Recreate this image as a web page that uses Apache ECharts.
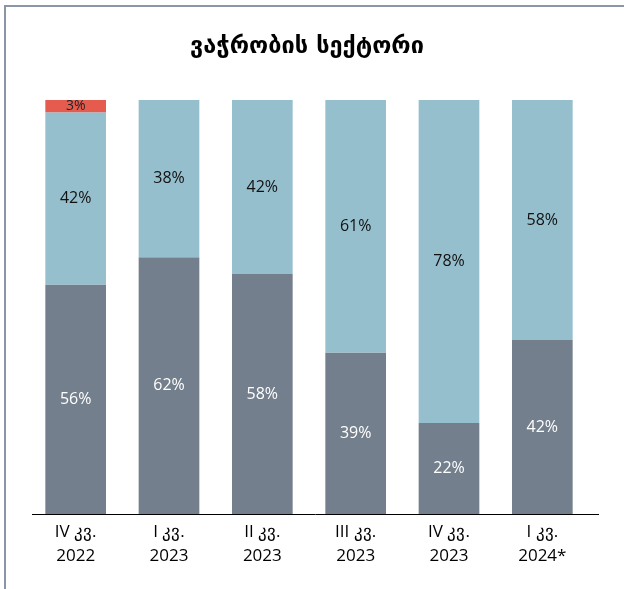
<!DOCTYPE html>
<html>
<head>
<meta charset="utf-8">
<script src="https://cdn.jsdelivr.net/npm/echarts@6/dist/echarts.min.js"></script>
<style>
  html, body { margin: 0; padding: 0; background: #fff; }
  #frame { position: absolute; left: 4px; top: 5px; width: 640px; height: 600px;
           border-top: 2px solid #8a96a6; border-left: 2px solid #8a96a6; }
  #chart { position: absolute; left: 0; top: 0; width: 624px; height: 589px; }
</style>
</head>
<body>
<div id="frame"></div>
<div id="chart"></div>
<script>
// kvartlebi
var categories = ["IV კვ.\n2022", "I კვ.\n2023", "II კვ.\n2023", "III კვ.\n2023", "IV კვ.\n2023", "I კვ.\n2024*"];
var greyValues = [56, 62, 58, 39, 22, 42];
var blueValues = [42, 38, 42, 61, 78, 58];
var redValues = [3, 0, 0, 0, 0, 0];

// 100%-ze normalizeba (pirveli sveti 101-s udris damrgvalebis gamo)
var totals = categories.map(function (c, i) {
  return greyValues[i] + blueValues[i] + redValues[i];
});
function share(arr) {
  return arr.map(function (v, i) {
    return { value: v / totals[i] * 100, raw: v };
  });
}
function lbl(p) {
  return p.data.raw ? p.data.raw + "%" : "";
}

var chart = echarts.init(document.getElementById("chart"));
var option = {
  animation: false,
  title: {
    text: "ვაჭრობის სექტორი",
    left: 302,
    textAlign: "center",
    top: 30,
    textStyle: { fontFamily: "DejaVu Sans", fontWeight: "bold", fontSize: 23.5, color: "#000" }
  },
  grid: { left: 29, right: 35, top: 100, bottom: 75 },
  // horizontaluri xazi (excel-is msgavsad ცოტა marjvniv gadis)
  graphic: [{
    type: "line",
    shape: { x1: 32, y1: 514.5, x2: 599, y2: 514.5 },
    style: { stroke: "#000", lineWidth: 1 },
    z: 10
  }],
  xAxis: {
    type: "category",
    data: categories,
    axisLine: { show: false },
    axisTick: { show: false },
    axisLabel: { color: "#000", fontSize: 17, lineHeight: 24, margin: 6, fontFamily: "Open Sans" }
  },
  yAxis: {
    type: "value",
    min: 0,
    max: 100,
    show: false,
    splitLine: { show: false }
  },
  series: [
    {
      name: "grey",
      type: "bar",
      stack: "a",
      barWidth: "65%",
      data: share(greyValues),
      itemStyle: { color: "#737f8c" },
      label: { show: true, position: "inside", color: "#fff", fontSize: 16, fontFamily: "Open Sans", formatter: lbl }
    },
    {
      name: "blue",
      type: "bar",
      stack: "a",
      data: share(blueValues),
      itemStyle: { color: "#96bfcd" },
      label: { show: true, position: "inside", color: "#111", fontSize: 16, fontFamily: "Open Sans", formatter: lbl }
    },
    {
      name: "red",
      type: "bar",
      stack: "a",
      data: share(redValues),
      itemStyle: { color: "#e55c4f" },
      label: { show: true, position: "inside", color: "#222", fontSize: 14, fontFamily: "Open Sans", formatter: lbl }
    }
  ]
};
chart.setOption(option);
</script>
</body>
</html>
